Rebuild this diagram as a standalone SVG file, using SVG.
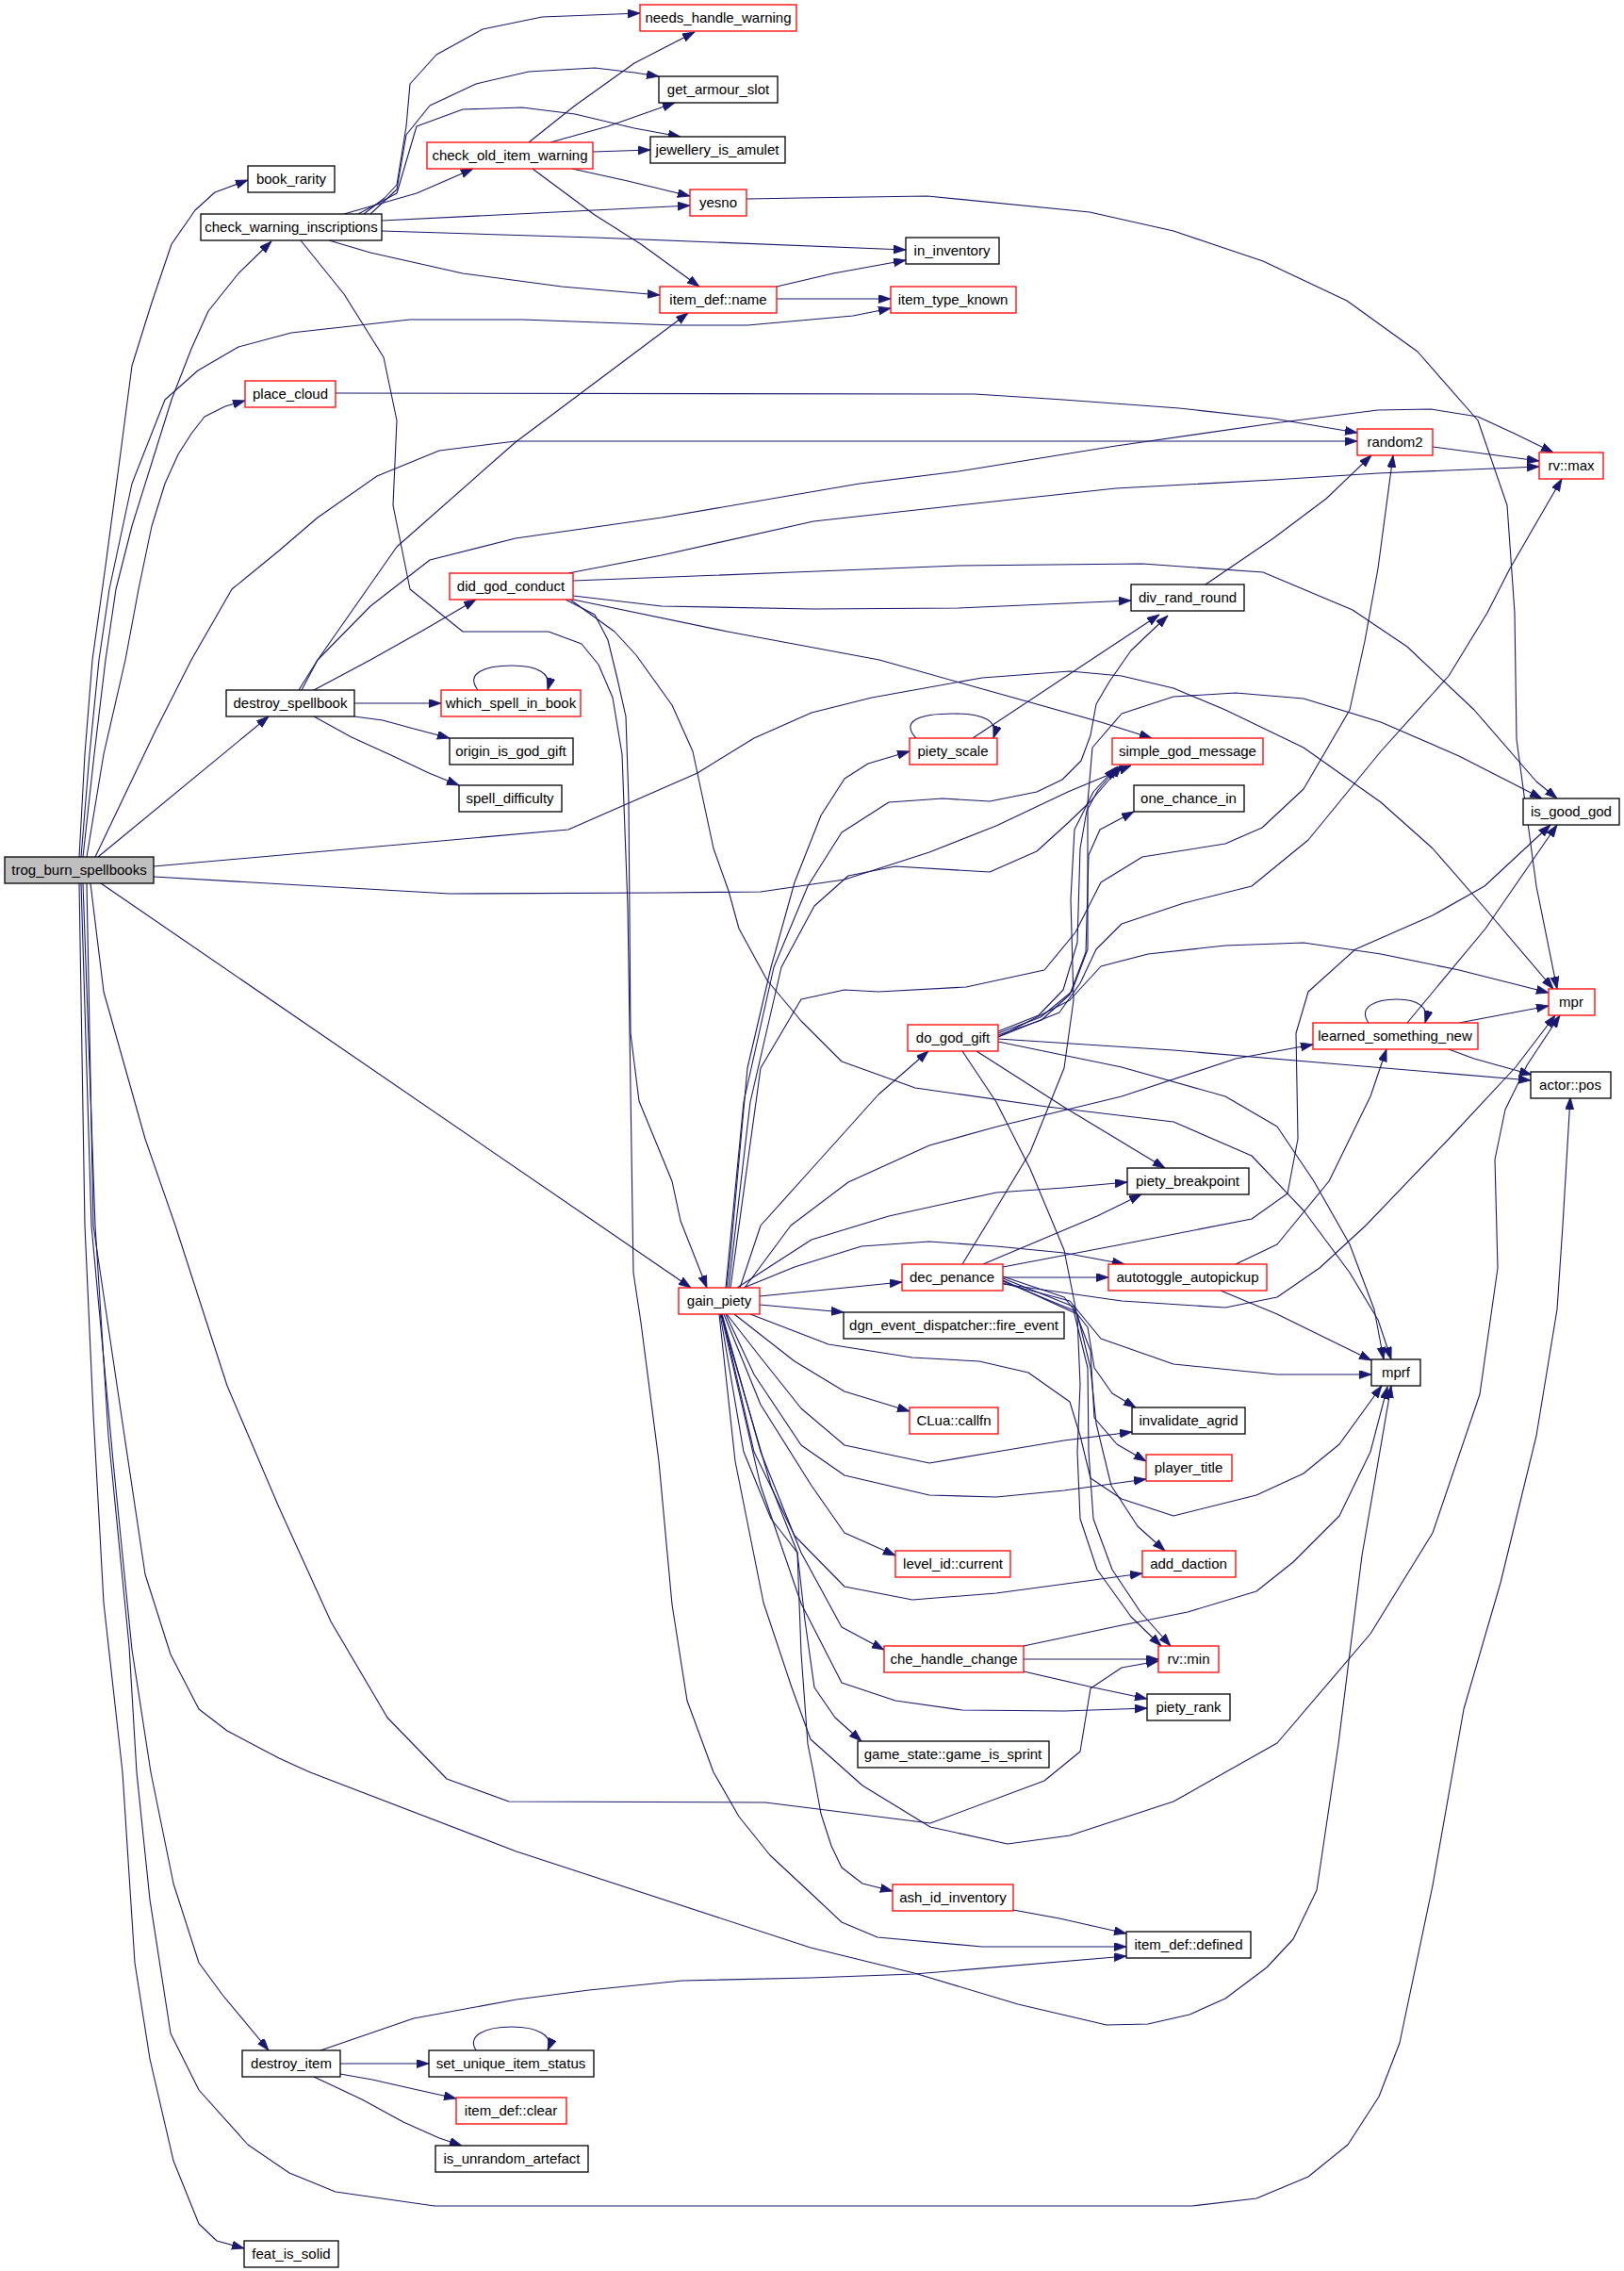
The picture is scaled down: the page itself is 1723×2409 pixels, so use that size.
<svg xmlns="http://www.w3.org/2000/svg" width="1723" height="2409" viewBox="0 0 1723 2409">
<style>
.n rect{fill:#fff;stroke:#000;stroke-width:1.3}
.n.r rect{stroke:#f00}
.n.root rect{fill:#bfbfbf}
.n text{font-family:"Liberation Sans",Arial,sans-serif;font-size:15px;fill:#000;text-anchor:middle}
#edges path{fill:none;stroke:#191970;stroke-width:1.1;stroke-linejoin:round;marker-end:url(#a)}
</style>
<defs>
<marker id="a" markerUnits="userSpaceOnUse" markerWidth="14" markerHeight="10" refX="13" refY="4.5" orient="auto">
<path d="M0,0 L13,4.5 L0,9 z" fill="#191970" stroke="#191970" stroke-width="0.8"/>
</marker>
</defs>
<rect width="1723" height="2409" fill="#fff"/>
<g id="edges">
<path d="M84,909 L90,800 L98,700 L112,600 L128,480 L140,388 L161,321 L182,259 L207,223 L228,204 L263,191"/>
<path d="M88,909 L100,800 L112,700 L123,625 L140,558 L161,491 L182,424 L203,370 L221,330 L253,290 L288,256"/>
<path d="M86,909 L95,800 L105,700 L116,625 L140,513 L175,424 L210,393 L253,368 L309,353 L435,339 L554,339 L716,345 L793,345 L905,335 L945,327"/>
<path d="M92,909 L110,800 L133,700 L147,625 L161,558 L175,513 L189,482 L203,460 L217,442 L239,431 L260,425"/>
<path d="M101,909 L165,775 L203,700 L246,625 L295,585 L337,549 L400,505 L466,478 L547,468 L1440,468"/>
<path d="M104,909 L285,760"/>
<path d="M163,919 L603,880 L740,820 L800,783 L861,756 L925,740 L1042,719 L1135,712 L1190,717 L1245,730 L1300,753 L1383,793 L1465,851 L1520,900 L1575,963 L1648,1049"/>
<path d="M163,930 L477,948 L700,947 L807,946 L896,933 L986,904 L1057,876 L1133,840 L1200,812"/>
<path d="M107,937 L733,1366"/>
<path d="M96,937 L110,1052 L154,1208 L186,1300 L241,1470 L296,1599 L351,1720 L411,1822 L474,1887 L540,1911 L812,1912 L860,1918 L987,1934 L1108,1889 L1146,1858 L1157,1791 L1190,1769 L1229,1762"/>
<path d="M92,937 L99,1300 L132,1523 L154,1670 L181,1755 L211,1813 L241,1836 L296,1865 L329,1880 L548,1964 L860,2066 L970,2093 L1080,2126 L1174,2148 L1218,2147 L1262,2137 L1300,2120 L1344,2087 L1372,2057 L1397,2005 L1420,1850 L1445,1650 L1476,1470"/>
<path d="M88,937 L101,1300 L115,1523 L137,1746 L145,1880 L159,2015 L181,2157 L211,2217 L263,2275 L307,2305 L356,2325 L461,2340 L1265,2340 L1333,2332 L1388,2309 L1430,2275 L1463,2224 L1485,2167 L1520,2000 L1553,1813 L1592,1679 L1630,1523 L1652,1389 L1658,1300 L1666,1164"/>
<path d="M86,937 L97,1300 L120,1550 L140,1750 L160,1880 L184,1998 L211,2082 L236,2116 L285,2175"/>
<path d="M84,937 L90,1300 L99,1500 L110,1700 L130,1880 L143,2082 L159,2184 L184,2292 L211,2359 L230,2377 L259,2385"/>
<path d="M386,227 L408,210 L421,196 L431,134 L435,89 L463,58 L512,31 L575,18 L679,14"/>
<path d="M393,227 L421,201 L431,143 L456,112 L505,89 L561,76 L631,72 L673,77 L699,81"/>
<path d="M380,227 L421,205 L442,134 L491,116 L554,114 L610,121 L673,136 L722,145"/>
<path d="M365,227 L442,205 L502,179"/>
<path d="M405,234 L732,218"/>
<path d="M405,245 L631,252 L961,265"/>
<path d="M349,255 L393,268 L491,290 L596,304 L700,313"/>
<path d="M319,255 L365,312 L407,379 L421,446 L417,536 L435,625 L491,670 L582,670 L617,683 L635,705 L650,740 L660,800 L666,962 L672,1350 L680,1403 L699,1550 L713,1702 L729,1804 L757,1880 L784,1927 L817,1968 L860,2008 L893,2039 L931,2055 L1042,2065 L1195,2065"/>
<path d="M561,151 L610,112 L673,67 L737,34"/>
<path d="M584,151 L645,134 L716,109"/>
<path d="M629,161 L690,159"/>
<path d="M607,179 L666,192 L732,208"/>
<path d="M565,179 L631,228 L680,259 L742,304"/>
<path d="M824,304 L884,290 L961,276"/>
<path d="M824,317 L945,317"/>
<path d="M792,211 L850,210 L984,208 L1156,225 L1245,245 L1340,277 L1429,319 L1504,373 L1568,446 L1599,536 L1607,650 L1609,784 L1630,940 L1652,1049"/>
<path d="M356,417 L1034,418 L1128,424 L1251,433 L1351,444 L1440,459"/>
<path d="M1520,474 L1633,489"/>
<path d="M317,732 L337,700 L365,660 L421,580 L547,469 L730,332"/>
<path d="M320,732 L337,700 L393,643 L456,594 L547,571 L702,549 L912,513 L1017,500 L1184,473 L1351,449 L1462,435 L1518,434 L1568,442 L1607,460 L1648,480"/>
<path d="M333,732 L393,700 L450,668 L505,636"/>
<path d="M376,746 L468,746"/>
<path d="M376,760 L406,764 L439,773 L477,783"/>
<path d="M333,760 L373,782 L417,802 L455,820 L487,833"/>
<path d="M507,732 C493,714 515,706 543,706 C570,706 586,714 581,732"/>
<path d="M603,608 L702,589 L863,553 L1017,536 L1184,518 L1351,509 L1462,502 L1633,495"/>
<path d="M608,632 L702,643 L863,646 L1017,645 L1200,637"/>
<path d="M608,616 L842,607 L1017,600 L1212,598 L1340,607 L1435,647 L1493,686 L1564,753 L1630,829 L1652,847"/>
<path d="M608,636 L772,670 L933,700 L1025,726 L1168,766 L1222,783"/>
<path d="M600,636 L631,652 L645,679 L655,720 L664,760 L667,850 L669,1096 L678,1168 L713,1253 L722,1295 L750,1366"/>
<path d="M605,636 L652,670 L675,695 L713,748 L735,797 L757,900 L773,945 L784,985 L814,1040 L850,1083 L893,1126 L971,1154 L1111,1174 L1245,1190 L1328,1226 L1383,1284 L1432,1350 L1462,1400 L1476,1442"/>
<path d="M1032,783 L1230,652"/>
<path d="M972,783 C955,765 975,757 1011,757 C1045,757 1060,765 1054,783"/>
<path d="M1279,620 L1351,571 L1407,529 L1455,483"/>
<path d="M771,1366 L775,1330 L793,1133 L818,1026 L843,936 L871,865 L896,826 L921,810 L965,797"/>
<path d="M770,1366 L789,1169 L821,1026 L857,940 L893,883 L943,851 L1000,847 L1050,850 L1100,840 L1127,827 L1147,807 L1157,780 L1163,747 L1177,723 L1200,690 L1239,653"/>
<path d="M773,1366 L796,1169 L829,1026 L864,961 L900,929 L950,919 L1050,925 L1100,903 L1133,873 L1157,850 L1190,812"/>
<path d="M775,1366 L807,1133 L850,1060 L896,1050 L932,1052 L1025,1047 L1108,1029 L1141,989 L1168,936 L1212,909 L1300,895 L1339,878 L1383,837 L1432,753 L1448,680 L1462,603 L1478,483"/>
<path d="M785,1366 L807,1300 L861,1240 L932,1161 L985,1115"/>
<path d="M790,1366 L839,1300 L900,1254 L986,1215 L1058,1195 L1190,1163 L1311,1123 L1393,1108"/>
<path d="M782,1366 L861,1315 L943,1290 L1057,1265 L1129,1260 L1196,1254"/>
<path d="M789,1366 L843,1344 L914,1322 L986,1317 L1057,1322 L1129,1329 L1193,1341"/>
<path d="M806,1375 L957,1360"/>
<path d="M806,1384 L895,1392"/>
<path d="M796,1394 L879,1426 L968,1440 L1039,1444 L1091,1456 L1135,1487 L1146,1523 L1157,1568 L1190,1590 L1245,1608 L1333,1586 L1383,1563 L1421,1532 L1466,1470"/>
<path d="M779,1394 L843,1444 L896,1476 L965,1497"/>
<path d="M771,1394 L807,1440 L850,1494 L896,1533 L986,1552 L1057,1540 L1129,1528 L1201,1519"/>
<path d="M770,1394 L800,1458 L850,1533 L896,1565 L986,1586 L1057,1588 L1129,1581 L1216,1569"/>
<path d="M768,1394 L807,1490 L861,1576 L896,1626 L950,1650"/>
<path d="M766,1394 L800,1540 L843,1629 L896,1683 L968,1697 L1057,1690 L1212,1669"/>
<path d="M766,1394 L807,1540 L850,1647 L893,1726 L938,1750"/>
<path d="M765,1394 L807,1576 L850,1701 L893,1785 L950,1804 L1021,1814 L1129,1815 L1217,1812"/>
<path d="M765,1394 L818,1576 L846,1647 L854,1719 L864,1790 L886,1822 L914,1847"/>
<path d="M764,1394 L789,1540 L818,1611 L846,1647 L850,1754 L857,1850 L863,1880 L871,1924 L882,1958 L893,1981 L915,1998 L947,2006"/>
<path d="M763,1394 L780,1550 L810,1700 L840,1790 L860,1845 L915,1894 L987,1938 L1069,1956 L1135,1947 L1245,1911 L1355,1849 L1454,1733 L1520,1626 L1570,1479 L1589,1345 L1586,1230 L1597,1177 L1620,1130 L1655,1077"/>
<path d="M1059,1094 L1102,1077 L1128,1050 L1143,1000 L1146,900 L1153,860 L1165,838 L1186,813"/>
<path d="M1059,1098 L1105,1082 L1135,1055 L1152,1010 L1155,907 L1167,880 L1203,861"/>
<path d="M1059,1100 L1124,1074 L1146,1043 L1163,1007 L1190,980 L1256,958 L1328,940 L1388,891 L1465,797 L1537,717 L1578,650 L1602,603 L1657,508"/>
<path d="M1059,1096 L1104,1079 L1137,1052 L1154,1007 L1154,851 L1159,793 L1190,757 L1245,739 L1311,735 L1383,741 L1465,766 L1548,802 L1636,847"/>
<path d="M1059,1100 L1135,1061 L1168,1025 L1218,1012 L1300,1003 L1383,1000 L1465,1012 L1548,1029 L1643,1053"/>
<path d="M1059,1102 L1245,1114 L1410,1128 L1624,1146"/>
<path d="M1036,1115 L1130,1175 L1236,1239"/>
<path d="M1059,1105 L1190,1132 L1300,1163 L1355,1195 L1394,1253 L1432,1320 L1458,1389 L1468,1442"/>
<path d="M1021,1115 L1057,1169 L1093,1240 L1114,1290 L1129,1326 L1143,1397 L1146,1469 L1143,1540 L1146,1611 L1164,1665 L1200,1715 L1232,1746"/>
<path d="M1021,1341 L1052,1290 L1093,1222 L1129,1133 L1139,1061 L1136,954 L1140,880 L1160,840 L1184,814"/>
<path d="M1043,1341 L1164,1290 L1211,1267"/>
<path d="M1064,1344 L1190,1320 L1328,1293 L1366,1266 L1377,1208 L1375,1096 L1388,1052 L1438,1007 L1520,971 L1575,940 L1645,875"/>
<path d="M1064,1355 L1176,1355"/>
<path d="M1064,1362 L1190,1380 L1300,1387 L1355,1376 L1400,1345 L1449,1300 L1540,1205 L1608,1132 L1650,1077"/>
<path d="M1064,1354 L1129,1376 L1154,1408 L1161,1451 L1180,1478 L1205,1493"/>
<path d="M1064,1356 L1139,1386 L1157,1433 L1161,1504 L1185,1532 L1216,1550"/>
<path d="M1064,1361 L1135,1380 L1168,1420 L1245,1447 L1355,1458 L1455,1458"/>
<path d="M1064,1358 L1143,1394 L1157,1451 L1163,1510 L1179,1576 L1207,1619 L1236,1645"/>
<path d="M1064,1359 L1139,1390 L1154,1451 L1155,1540 L1160,1611 L1180,1665 L1210,1710 L1242,1746"/>
<path d="M1311,1341 L1355,1320 L1410,1253 L1454,1163 L1471,1113"/>
<path d="M1295,1369 L1355,1394 L1410,1421 L1455,1443"/>
<path d="M1452,1085 C1440,1068 1460,1060 1482,1060 C1504,1060 1517,1068 1512,1085"/>
<path d="M1493,1085 L1576,985 L1652,875"/>
<path d="M1548,1085 L1643,1067"/>
<path d="M1537,1113 L1564,1123 L1625,1140"/>
<path d="M1086,1746 L1190,1724 L1260,1710 L1333,1688 L1372,1657 L1421,1608 L1454,1540 L1472,1471"/>
<path d="M1086,1760 L1229,1760"/>
<path d="M1086,1773 L1160,1790 L1217,1802"/>
<path d="M1075,2026 L1124,2035 L1195,2051"/>
<path d="M340,2175 L439,2141 L548,2121 L625,2111 L724,2101 L860,2098 L970,2094 L1195,2075"/>
<path d="M361,2189 L455,2189"/>
<path d="M361,2200 L395,2206 L439,2216 L484,2226"/>
<path d="M333,2203 L384,2227 L428,2251 L466,2268 L490,2276"/>
<path d="M505,2175 C495,2159 515,2150 543,2150 C570,2150 588,2159 581,2175"/>
</g>
<g id="node_trog_burn_spellbooks" class="n root"><rect x="5" y="909" width="158" height="28"/><text x="84" y="928">trog_burn_spellbooks</text></g>
<g id="node_book_rarity" class="n"><rect x="263" y="176" width="92" height="28"/><text x="309" y="195">book_rarity</text></g>
<g id="node_check_warning_inscriptions" class="n"><rect x="213" y="227" width="192" height="28"/><text x="309" y="246">check_warning_inscriptions</text></g>
<g id="node_place_cloud" class="n r"><rect x="260" y="404" width="96" height="28"/><text x="308" y="423">place_cloud</text></g>
<g id="node_destroy_spellbook" class="n"><rect x="240" y="732" width="136" height="28"/><text x="308" y="751">destroy_spellbook</text></g>
<g id="node_gain_piety" class="n r"><rect x="720" y="1366" width="86" height="28"/><text x="763" y="1385">gain_piety</text></g>
<g id="node_destroy_item" class="n"><rect x="257" y="2175" width="104" height="28"/><text x="309" y="2194">destroy_item</text></g>
<g id="node_feat_is_solid" class="n"><rect x="259" y="2377" width="100" height="28"/><text x="309" y="2396">feat_is_solid</text></g>
<g id="node_needs_handle_warning" class="n r"><rect x="679" y="5" width="166" height="28"/><text x="762" y="24">needs_handle_warning</text></g>
<g id="node_get_armour_slot" class="n"><rect x="699" y="81" width="126" height="28"/><text x="762" y="100">get_armour_slot</text></g>
<g id="node_jewellery_is_amulet" class="n"><rect x="690" y="145" width="143" height="28"/><text x="761" y="164">jewellery_is_amulet</text></g>
<g id="node_check_old_item_warning" class="n r"><rect x="453" y="151" width="176" height="28"/><text x="541" y="170">check_old_item_warning</text></g>
<g id="node_yesno" class="n r"><rect x="732" y="201" width="60" height="28"/><text x="762" y="220">yesno</text></g>
<g id="node_in_inventory" class="n"><rect x="961" y="252" width="99" height="28"/><text x="1010" y="271">in_inventory</text></g>
<g id="node_item_def_name" class="n r"><rect x="700" y="304" width="124" height="28"/><text x="762" y="323">item_def::name</text></g>
<g id="node_item_type_known" class="n r"><rect x="945" y="304" width="133" height="28"/><text x="1011" y="323">item_type_known</text></g>
<g id="node_random2" class="n r"><rect x="1440" y="455" width="80" height="28"/><text x="1480" y="474">random2</text></g>
<g id="node_rv_max" class="n r"><rect x="1633" y="480" width="68" height="28"/><text x="1667" y="499">rv::max</text></g>
<g id="node_did_god_conduct" class="n r"><rect x="477" y="608" width="131" height="28"/><text x="542" y="627">did_god_conduct</text></g>
<g id="node_div_rand_round" class="n"><rect x="1200" y="620" width="120" height="28"/><text x="1260" y="639">div_rand_round</text></g>
<g id="node_which_spell_in_book" class="n r"><rect x="468" y="732" width="148" height="28"/><text x="542" y="751">which_spell_in_book</text></g>
<g id="node_origin_is_god_gift" class="n"><rect x="477" y="783" width="131" height="28"/><text x="542" y="802">origin_is_god_gift</text></g>
<g id="node_spell_difficulty" class="n"><rect x="487" y="833" width="109" height="28"/><text x="541" y="852">spell_difficulty</text></g>
<g id="node_piety_scale" class="n r"><rect x="965" y="783" width="93" height="28"/><text x="1011" y="802">piety_scale</text></g>
<g id="node_simple_god_message" class="n r"><rect x="1180" y="783" width="160" height="28"/><text x="1260" y="802">simple_god_message</text></g>
<g id="node_one_chance_in" class="n"><rect x="1203" y="833" width="117" height="28"/><text x="1261" y="852">one_chance_in</text></g>
<g id="node_is_good_god" class="n"><rect x="1616" y="847" width="102" height="28"/><text x="1667" y="866">is_good_god</text></g>
<g id="node_mpr" class="n r"><rect x="1643" y="1049" width="49" height="28"/><text x="1667" y="1068">mpr</text></g>
<g id="node_do_god_gift" class="n r"><rect x="963" y="1087" width="96" height="28"/><text x="1011" y="1106">do_god_gift</text></g>
<g id="node_learned_something_new" class="n r"><rect x="1393" y="1085" width="175" height="28"/><text x="1480" y="1104">learned_something_new</text></g>
<g id="node_actor_pos" class="n"><rect x="1624" y="1137" width="85" height="28"/><text x="1666" y="1156">actor::pos</text></g>
<g id="node_piety_breakpoint" class="n"><rect x="1196" y="1239" width="129" height="28"/><text x="1260" y="1258">piety_breakpoint</text></g>
<g id="node_dec_penance" class="n r"><rect x="957" y="1341" width="107" height="28"/><text x="1010" y="1360">dec_penance</text></g>
<g id="node_autotoggle_autopickup" class="n r"><rect x="1176" y="1341" width="168" height="28"/><text x="1260" y="1360">autotoggle_autopickup</text></g>
<g id="node_fire_event" class="n"><rect x="895" y="1392" width="234" height="28"/><text x="1012" y="1411">dgn_event_dispatcher::fire_event</text></g>
<g id="node_mprf" class="n"><rect x="1455" y="1442" width="52" height="28"/><text x="1481" y="1461">mprf</text></g>
<g id="node_clua_callfn" class="n r"><rect x="965" y="1493" width="94" height="28"/><text x="1012" y="1512">CLua::callfn</text></g>
<g id="node_invalidate_agrid" class="n"><rect x="1201" y="1493" width="120" height="28"/><text x="1261" y="1512">invalidate_agrid</text></g>
<g id="node_player_title" class="n r"><rect x="1216" y="1543" width="91" height="28"/><text x="1261" y="1562">player_title</text></g>
<g id="node_level_id_current" class="n r"><rect x="950" y="1645" width="122" height="28"/><text x="1011" y="1664">level_id::current</text></g>
<g id="node_add_daction" class="n r"><rect x="1212" y="1645" width="99" height="28"/><text x="1261" y="1664">add_daction</text></g>
<g id="node_che_handle_change" class="n r"><rect x="938" y="1746" width="148" height="28"/><text x="1012" y="1765">che_handle_change</text></g>
<g id="node_rv_min" class="n r"><rect x="1229" y="1746" width="64" height="28"/><text x="1261" y="1765">rv::min</text></g>
<g id="node_piety_rank" class="n"><rect x="1217" y="1797" width="88" height="28"/><text x="1261" y="1816">piety_rank</text></g>
<g id="node_game_is_sprint" class="n"><rect x="910" y="1847" width="203" height="28"/><text x="1011" y="1866">game_state::game_is_sprint</text></g>
<g id="node_ash_id_inventory" class="n r"><rect x="947" y="1999" width="128" height="28"/><text x="1011" y="2018">ash_id_inventory</text></g>
<g id="node_item_def_defined" class="n"><rect x="1195" y="2049" width="132" height="28"/><text x="1261" y="2068">item_def::defined</text></g>
<g id="node_set_unique_item_status" class="n"><rect x="455" y="2175" width="175" height="28"/><text x="542" y="2194">set_unique_item_status</text></g>
<g id="node_item_def_clear" class="n r"><rect x="484" y="2225" width="117" height="28"/><text x="542" y="2244">item_def::clear</text></g>
<g id="node_is_unrandom_artefact" class="n"><rect x="462" y="2276" width="162" height="28"/><text x="543" y="2295">is_unrandom_artefact</text></g>
</svg>
